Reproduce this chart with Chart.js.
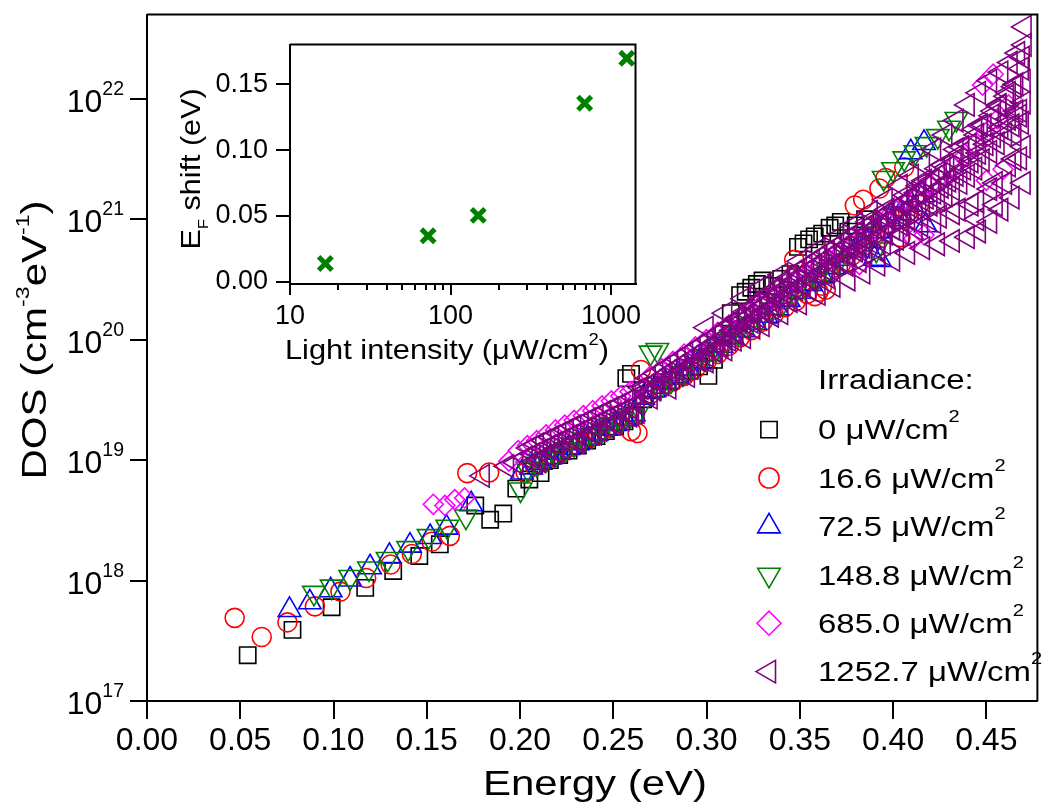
<!DOCTYPE html>
<html>
<head>
<meta charset="utf-8">
<script src="https://cdn.jsdelivr.net/npm/chart.js@4.4.0/dist/chart.umd.min.js"></script>
<style>
  html, body { margin: 0; padding: 0; background: #fff; }
  #wrap { position: relative; width: 1052px; height: 809px; }
  #main { position: absolute; left: 0; top: 0; }
  #inset { position: absolute; left: 160px; top: 30px; }
</style>
</head>
<body>
<div id="wrap">
  <canvas id="main" width="1052" height="809"></canvas>
  <canvas id="inset" width="490" height="345"></canvas>
</div>
<script>
// Ejes principales
const energyTicks = [0, 0.05, 0.10, 0.15, 0.20, 0.25, 0.30, 0.35, 0.40, 0.45];
const dosTicks = [1e17, 1e18, 1e19, 1e20, 1e21, 1e22];
const irradianceLabels = ["0", "16.6", "72.5", "148.8", "685.0", "1252.7"];

// Datos: [energía (eV), DOS (cm^-3 eV^-1)]
const irr0 = [
  [0.054, 2.4e17], [0.078, 3.9e17], [0.099, 6.0e17], [0.117, 8.7e17], [0.132, 1.2e18],
  [0.146, 1.6e18], [0.157, 2.0e18], [0.176, 4.2e18], [0.184, 3.2e18], [0.191, 3.6e18],
  [0.198, 5.8e18], [0.205, 6.9e18], [0.211, 7.8e18], [0.216, 1.0e19], [0.221, 1.1e19],
  [0.226, 1.2e19], [0.231, 1.32e19], [0.236, 1.45e19], [0.241, 1.58e19], [0.246, 1.74e19],
  [0.251, 1.9e19], [0.256, 2.1e19], [0.257, 4.8e19], [0.2595, 5.2e19], [0.261, 2.35e19],
  [0.266, 3.2e19], [0.271, 3.8e19], [0.276, 4.2e19], [0.281, 4.6e19], [0.286, 5.0e19],
  [0.291, 5.5e19], [0.296, 6.0e19], [0.301, 5.0e19], [0.304, 6.8e19], [0.309, 1.12e20],
  [0.313, 1.66e20], [0.318, 2.34e20], [0.321, 2.5e20], [0.324, 2.7e20], [0.327, 2.9e20],
  [0.330, 3.1e20], [0.335, 2.8e20], [0.340, 3.2e20], [0.345, 3.5e20], [0.349, 5.9e20],
  [0.352, 6.3e20], [0.355, 6.8e20], [0.358, 7.2e20], [0.362, 7.6e20], [0.366, 8.5e20],
  [0.369, 8.9e20], [0.372, 9.5e20], [0.376, 7.9e20], [0.380, 8.9e20], [0.385, 1.0e21]
];
const irr16 = [
  [0.047, 4.9e17], [0.0615, 3.4e17], [0.0753, 4.5e17], [0.090, 6.1e17], [0.1037, 8.1e17],
  [0.1175, 1.05e18], [0.1306, 1.36e18], [0.142, 1.66e18], [0.1526, 2.1e18], [0.1624, 2.35e18],
  [0.1717, 7.8e18], [0.1835, 7.9e18], [0.203, 7.9e18], [0.208, 8.9e18], [0.213, 9.8e18],
  [0.218, 1.07e19], [0.223, 1.17e19], [0.228, 1.29e19], [0.233, 1.41e19], [0.238, 1.55e19],
  [0.243, 1.7e19], [0.248, 1.86e19], [0.253, 2.04e19], [0.2595, 1.74e19], [0.263, 1.68e19],
  [0.2648, 5.6e19], [0.270, 3.55e19], [0.276, 4.0e19], [0.282, 4.5e19], [0.288, 5.0e19],
  [0.294, 5.75e19], [0.300, 6.6e19], [0.306, 7.6e19], [0.312, 8.9e19], [0.318, 1.05e20],
  [0.324, 1.2e20], [0.330, 1.41e20], [0.336, 1.62e20], [0.342, 1.86e20], [0.347, 4.6e20],
  [0.348, 2.1e20], [0.354, 2.4e20], [0.358, 2.3e20], [0.360, 2.5e20], [0.362, 2.8e20],
  [0.364, 2.6e20], [0.366, 3.5e20], [0.372, 4.2e20], [0.378, 5.0e20], [0.3795, 1.3e21],
  [0.384, 1.45e21], [0.384, 6.0e20], [0.390, 7.2e20], [0.3927, 1.8e21], [0.396, 2.2e21],
  [0.396, 8.5e20], [0.402, 1.0e21], [0.404, 7.1e20], [0.406, 2.7e21], [0.408, 1.15e21],
  [0.414, 1.32e21]
];
const irr72 = [
  [0.0764, 5.7e17], [0.0873, 6.6e17], [0.0985, 8.3e17], [0.1089, 1.02e18], [0.1196, 1.29e18],
  [0.130, 1.6e18], [0.141, 1.95e18], [0.1518, 2.3e18], [0.1606, 2.75e18], [0.1738, 4.3e18],
  [0.201, 7.9e18], [0.206, 8.7e18], [0.211, 9.5e18], [0.216, 1.05e19], [0.221, 1.15e19],
  [0.226, 1.26e19], [0.231, 1.38e19], [0.236, 1.51e19], [0.241, 1.66e19], [0.246, 1.82e19],
  [0.251, 2.0e19], [0.256, 2.19e19], [0.261, 2.4e19], [0.266, 3.3e19], [0.272, 3.8e19],
  [0.278, 4.4e19], [0.284, 5.0e19], [0.290, 5.75e19], [0.296, 6.6e19], [0.302, 7.6e19],
  [0.308, 8.9e19], [0.314, 1.05e20], [0.320, 1.2e20], [0.326, 1.38e20], [0.332, 1.58e20],
  [0.338, 1.82e20], [0.344, 2.14e20], [0.350, 2.5e20], [0.356, 2.9e20], [0.362, 3.4e20],
  [0.368, 4.0e20], [0.374, 4.7e20], [0.380, 5.5e20], [0.386, 6.6e20], [0.390, 4.7e20],
  [0.393, 4.6e20], [0.392, 7.9e20], [0.398, 1.0e21], [0.404, 1.12e21], [0.4095, 3.6e21],
  [0.410, 1.32e21], [0.4166, 4.3e21], [0.416, 1.58e21], [0.4175, 8.9e20]
];
const irr148 = [
  [0.0895, 7.9e17], [0.099, 8.9e17], [0.109, 1.07e18], [0.119, 1.26e18], [0.129, 1.51e18],
  [0.140, 1.86e18], [0.151, 2.34e18], [0.161, 2.8e18], [0.171, 3.4e18], [0.2003, 5.7e18],
  [0.204, 8.5e18], [0.209, 9.3e18], [0.214, 1.02e19], [0.219, 1.12e19], [0.224, 1.23e19],
  [0.229, 1.35e19], [0.234, 1.48e19], [0.239, 1.62e19], [0.244, 1.78e19], [0.249, 1.95e19],
  [0.254, 2.14e19], [0.259, 2.34e19], [0.264, 2.63e19], [0.270, 7.8e19], [0.2736, 8.2e19],
  [0.275, 4.0e19], [0.281, 4.6e19], [0.287, 5.25e19], [0.293, 6.0e19], [0.299, 7.1e19],
  [0.305, 8.3e19], [0.311, 9.8e19], [0.317, 1.15e20], [0.323, 1.32e20], [0.329, 1.51e20],
  [0.335, 1.78e20], [0.341, 2.04e20], [0.347, 2.4e20], [0.353, 2.75e20], [0.359, 3.2e20],
  [0.365, 3.8e20], [0.371, 4.5e20], [0.377, 5.25e20], [0.383, 6.3e20], [0.389, 7.6e20],
  [0.391, 5.6e20], [0.395, 2.2e21], [0.400, 2.6e21], [0.406, 3.2e21], [0.412, 3.6e21],
  [0.418, 4.2e21], [0.424, 4.9e21], [0.430, 5.75e21], [0.434, 6.8e21]
];
const irr685 = [
  [0.1535, 4.3e18], [0.1597, 4.2e18], [0.165, 4.7e18], [0.1703, 4.85e18], [0.194, 9.8e18],
  [0.199, 1.2e19], [0.204, 1.32e19], [0.209, 1.45e19], [0.214, 1.62e19], [0.219, 1.78e19],
  [0.224, 1.95e19], [0.229, 2.14e19], [0.234, 2.34e19], [0.239, 2.57e19], [0.244, 2.82e19],
  [0.249, 3.1e19], [0.254, 3.4e19], [0.259, 3.7e19], [0.264, 4.2e19], [0.270, 5.0e19],
  [0.276, 5.75e19], [0.282, 6.6e19], [0.288, 7.6e19], [0.294, 8.7e19], [0.300, 1.0e20],
  [0.306, 1.15e20], [0.312, 1.32e20], [0.318, 1.51e20], [0.324, 1.74e20], [0.330, 2.0e20],
  [0.336, 2.3e20], [0.342, 2.6e20], [0.348, 3.0e20], [0.354, 3.5e20], [0.360, 4.0e20],
  [0.366, 4.6e20], [0.372, 5.25e20], [0.378, 6.0e20], [0.382, 4.2e20], [0.384, 7.1e20],
  [0.390, 8.3e20], [0.396, 1.0e21], [0.402, 1.17e21], [0.408, 1.38e21], [0.411, 6.9e20],
  [0.414, 1.62e21], [0.4166, 7.4e20], [0.420, 1.9e21], [0.426, 2.3e21], [0.432, 2.75e21],
  [0.438, 3.3e21], [0.444, 4.2e21], [0.448, 1.3e22], [0.450, 5.25e21], [0.450, 2.1e21],
  [0.4537, 1.6e22], [0.456, 6.8e21], [0.459, 2.6e21], [0.462, 8.9e21]
];
const irr1252 = [
  // fila central
  [0.180, 7.4e18], [0.193, 8.9e18], [0.198, 9.5e18], [0.203, 1.05e19], [0.207, 1.12e19],
  [0.211, 1.2e19], [0.215, 1.29e19], [0.219, 1.38e19], [0.223, 1.48e19], [0.227, 1.58e19],
  [0.231, 1.7e19], [0.235, 1.82e19], [0.239, 1.95e19], [0.243, 2.09e19], [0.247, 2.24e19],
  [0.251, 2.4e19], [0.255, 2.57e19], [0.259, 2.75e19], [0.263, 2.95e19], [0.267, 3.98e19],
  [0.270, 4.27e19], [0.274, 4.68e19], [0.278, 5.13e19], [0.282, 5.62e19], [0.286, 6.17e19],
  [0.290, 6.76e19], [0.294, 7.41e19], [0.298, 8.13e19], [0.302, 8.91e19], [0.306, 9.77e19],
  [0.310, 1.07e20], [0.314, 1.2e20], [0.318, 1.41e20], [0.322, 1.55e20], [0.326, 1.74e20],
  [0.330, 1.91e20], [0.334, 2.14e20], [0.338, 2.4e20], [0.342, 2.69e20], [0.346, 3.02e20],
  [0.350, 3.39e20], [0.354, 3.72e20], [0.358, 4.07e20], [0.362, 4.47e20], [0.366, 4.9e20],
  [0.370, 5.37e20], [0.374, 5.89e20], [0.378, 6.46e20], [0.382, 7.08e20], [0.386, 7.76e20],
  [0.390, 8.51e20], [0.394, 9.33e20], [0.398, 1.0e21], [0.402, 1.07e21], [0.406, 1.15e21],
  [0.410, 1.26e21], [0.414, 1.38e21], [0.418, 1.51e21], [0.422, 1.66e21], [0.426, 1.86e21],
  [0.430, 2.09e21], [0.434, 2.34e21], [0.438, 2.63e21], [0.442, 3.02e21], [0.446, 3.55e21],
  [0.450, 4.2e21], [0.454, 4.9e21], [0.458, 5.75e21], [0.462, 6.8e21], [0.466, 7.9e21],
  [0.470, 9.3e21],
  // fila algo por encima del centro
  [0.205, 1.26e19], [0.209, 1.35e19], [0.213, 1.45e19], [0.217, 1.55e19], [0.221, 1.66e19],
  [0.225, 1.78e19], [0.229, 1.91e19], [0.233, 2.04e19], [0.237, 2.19e19], [0.241, 2.34e19],
  [0.245, 2.51e19], [0.249, 2.69e19], [0.253, 2.88e19], [0.257, 3.09e19], [0.261, 3.31e19],
  [0.265, 3.98e19], [0.269, 4.79e19], [0.273, 5.25e19], [0.277, 5.75e19], [0.281, 6.31e19],
  [0.285, 6.92e19], [0.289, 7.59e19], [0.293, 8.32e19], [0.297, 9.12e19], [0.301, 1.0e20],
  [0.305, 1.1e20], [0.309, 1.2e20], [0.313, 1.35e20], [0.317, 1.51e20], [0.321, 1.7e20],
  [0.325, 1.91e20], [0.329, 2.14e20], [0.333, 2.4e20], [0.337, 2.63e20], [0.341, 2.95e20],
  [0.345, 3.31e20], [0.349, 3.72e20], [0.353, 4.07e20], [0.357, 4.47e20], [0.361, 4.9e20],
  [0.365, 5.37e20], [0.369, 5.89e20], [0.373, 6.46e20], [0.377, 7.08e20], [0.381, 7.76e20],
  [0.385, 8.51e20], [0.389, 9.33e20], [0.393, 1.02e21], [0.397, 1.12e21], [0.401, 1.23e21],
  [0.405, 1.35e21], [0.409, 1.48e21], [0.413, 1.66e21], [0.417, 1.86e21], [0.421, 2.09e21],
  [0.425, 2.34e21], [0.429, 2.69e21], [0.433, 3.09e21], [0.437, 3.55e21], [0.441, 4.17e21],
  [0.445, 5.01e21], [0.449, 6.03e21], [0.453, 7.24e21], [0.457, 8.71e21], [0.461, 1.05e22],
  [0.465, 1.26e22],
  // fila algo por debajo del centro
  [0.207, 9.55e18], [0.211, 1.02e19], [0.215, 1.1e19], [0.219, 1.17e19], [0.223, 1.26e19],
  [0.227, 1.35e19], [0.231, 1.45e19], [0.235, 1.55e19], [0.239, 1.66e19], [0.243, 1.78e19],
  [0.247, 1.91e19], [0.251, 2.04e19], [0.255, 2.19e19], [0.259, 2.34e19], [0.263, 2.51e19],
  [0.268, 3.55e19], [0.272, 3.89e19], [0.276, 4.27e19], [0.280, 4.68e19], [0.284, 5.13e19],
  [0.288, 5.62e19], [0.292, 6.17e19], [0.296, 6.76e19], [0.300, 7.41e19], [0.304, 8.13e19],
  [0.308, 8.91e19], [0.312, 1.0e20], [0.316, 1.12e20], [0.320, 1.26e20], [0.324, 1.41e20],
  [0.328, 1.55e20], [0.332, 1.74e20], [0.336, 1.91e20], [0.340, 2.14e20], [0.344, 2.34e20],
  [0.348, 2.63e20], [0.352, 2.88e20], [0.356, 3.16e20], [0.360, 3.47e20], [0.364, 3.8e20],
  [0.368, 4.17e20], [0.372, 4.57e20], [0.376, 5.01e20], [0.380, 5.5e20], [0.384, 5.89e20],
  [0.388, 6.46e20], [0.392, 7.08e20], [0.396, 7.59e20], [0.400, 8.32e20], [0.404, 9.12e20],
  [0.408, 1.0e21], [0.412, 1.1e21], [0.416, 1.2e21], [0.420, 1.32e21], [0.424, 1.45e21],
  [0.428, 1.58e21], [0.432, 1.78e21], [0.436, 2.0e21], [0.440, 2.29e21], [0.444, 2.63e21],
  [0.448, 3.09e21], [0.452, 3.63e21], [0.456, 4.27e21], [0.460, 5.01e21], [0.464, 6.03e21],
  [0.468, 7.24e21],
  // borde inferior a baja energía
  [0.210, 9.8e18], [0.220, 1.17e19], [0.230, 1.41e19], [0.240, 1.66e19], [0.250, 2.0e19],
  [0.260, 2.4e19], [0.270, 3.3e19], [0.280, 4.0e19], [0.290, 5.0e19],
  // borde superior
  [0.300, 1.26e20], [0.310, 1.66e20], [0.320, 2.19e20], [0.330, 2.75e20], [0.340, 3.47e20],
  [0.350, 4.47e20], [0.360, 5.62e20], [0.370, 7.08e20], [0.380, 9.12e20], [0.388, 1.15e21],
  [0.396, 1.45e21], [0.404, 1.9e21], [0.410, 2.29e21], [0.416, 2.88e21], [0.422, 3.8e21],
  [0.428, 5.0e21], [0.434, 6.6e21], [0.440, 8.9e21], [0.446, 1.12e22], [0.452, 1.41e22],
  [0.458, 1.66e22], [0.463, 2.0e22], [0.467, 2.4e22], [0.4705, 2.8e22], [0.4705, 3.95e22],
  // borde inferior
  [0.300, 6.6e19], [0.310, 8.3e19], [0.320, 1.05e20], [0.330, 1.32e20], [0.340, 1.66e20],
  [0.350, 2.0e20], [0.360, 2.4e20], [0.368, 2.8e20], [0.376, 3.16e20], [0.384, 3.6e20],
  [0.392, 4.2e20], [0.400, 4.6e20], [0.408, 5.25e20], [0.416, 5.75e20], [0.424, 6.2e20],
  [0.432, 6.6e20], [0.440, 7.1e20], [0.446, 7.9e20], [0.452, 9.5e20], [0.458, 1.2e21],
  [0.464, 1.51e21], [0.470, 2.0e21],
  // relleno
  [0.305, 7.94e19], [0.315, 1.0e20], [0.325, 1.26e20], [0.335, 1.58e20], [0.345, 2.09e20],
  [0.355, 2.63e20], [0.365, 3.31e20], [0.375, 4.17e20],
  [0.382, 4.5e20], [0.392, 5.6e20], [0.402, 6.9e20], [0.412, 8.3e20], [0.422, 9.5e20],
  [0.432, 1.12e21], [0.442, 1.32e21], [0.452, 1.78e21], [0.462, 2.8e21], [0.470, 4.0e21],
  [0.385, 5.25e20], [0.395, 6.31e20], [0.405, 7.59e20], [0.415, 8.91e20], [0.425, 1.05e21],
  [0.435, 1.2e21], [0.445, 1.41e21], [0.455, 2.0e21], [0.465, 3.16e21],
  [0.387, 9.55e20], [0.397, 1.2e21], [0.407, 1.58e21], [0.417, 2.09e21], [0.427, 2.82e21],
  [0.437, 3.98e21], [0.447, 6.03e21], [0.457, 8.91e21], [0.466, 1.32e22],
  [0.404, 1.32e21], [0.414, 1.9e21], [0.424, 2.63e21], [0.434, 3.8e21], [0.444, 5.6e21],
  [0.454, 7.9e21], [0.462, 1.12e22], [0.470, 1.41e22], [0.469, 6.3e21], [0.469, 1.78e22],
  [0.468, 3.2e21], [0.445, 1.0e21], [0.455, 1.32e21], [0.460, 2.0e21], [0.465, 5.01e21],
  [0.468, 7.94e21], [0.4695, 2.2e22]
];

// Recuadro: desplazamiento del nivel de Fermi
const lightIntensity = [16.6, 72.5, 148.8, 685.0, 1252.7];
const fermiShift = [0.014, 0.035, 0.0505, 0.1355, 0.1695];
const insetXTicks = [10, 100, 1000];
const insetYTicks = [0, 0.05, 0.10, 0.15];

const FONT = "'Liberation Sans', Arial, Helvetica, sans-serif";

// Texto con superíndices / subíndices
function richText(ctx, parts, x, y, size, opts) {
  opts = opts || {};
  const sx = opts.sx || 1;
  const small = size * (opts.smallRatio || 0.6);
  const supShift = opts.supShift || size * 0.55;
  const subShift = opts.subShift || size * 0.25;
  let total = 0;
  const widths = parts.map(function (p) {
    ctx.font = (p[1] ? small : size) + "px " + FONT;
    const w = ctx.measureText(p[0]).width;
    total += w;
    return w;
  });
  ctx.save();
  ctx.translate(x, y);
  if (opts.rot) ctx.rotate(opts.rot);
  ctx.scale(sx, 1);
  ctx.fillStyle = "#000";
  ctx.textAlign = "left";
  ctx.textBaseline = "alphabetic";
  let cx = opts.align === "center" ? -total / 2 : opts.align === "right" ? -total : 0;
  parts.forEach(function (p, i) {
    ctx.font = (p[1] ? small : size) + "px " + FONT;
    const dy = p[1] === "sup" ? -supShift : p[1] === "sub" ? subShift : 0;
    ctx.fillText(p[0], cx, dy);
    cx += widths[i];
  });
  ctx.restore();
}

function toPoints(arr) {
  return arr.map(function (p) { return { x: p[0], y: p[1] }; });
}

const seriesStyle = [
  { data: irr0, color: "#000000", style: "rect", rot: 0, r: 11.5, lr: 11.5 },
  { data: irr16, color: "#ff0000", style: "circle", rot: 0, r: 9.5, lr: 10 },
  { data: irr72, color: "#0000ff", style: "triangle", rot: 0, r: 13, lr: 13 },
  { data: irr148, color: "#008000", style: "triangle", rot: 180, r: 13, lr: 13 },
  { data: irr685, color: "#ff00ff", style: "rectRot", rot: 0, r: 10, lr: 12 },
  { data: irr1252, color: "#800080", style: "triangle", rot: -90, r: 13, lr: 13 }
];

const datasets = seriesStyle.map(function (s, i) {
  return {
    label: irradianceLabels[i] + " μW/cm²",
    data: toPoints(s.data),
    showLine: false,
    pointStyle: s.style,
    pointRotation: s.rot,
    pointRadius: s.r,
    pointHoverRadius: s.r,
    pointBorderWidth: 1.6,
    borderColor: s.color,
    pointBorderColor: s.color,
    backgroundColor: "rgba(0,0,0,0)",
    pointBackgroundColor: "rgba(0,0,0,0)",
    order: 5 - i,
    clip: false
  };
});

// Marco, etiquetas del eje Y, títulos y leyenda
const mainDecor = {
  id: "mainDecor",
  afterDraw: function (chart) {
    const ctx = chart.ctx;
    const a = chart.chartArea;
    ctx.save();
    ctx.strokeStyle = "#000";
    ctx.lineWidth = 2;
    ctx.beginPath();
    ctx.moveTo(a.left, a.top);
    ctx.lineTo(a.right, a.top);
    ctx.lineTo(a.right, a.bottom);
    ctx.stroke();
    ctx.restore();

    const ys = chart.scales.y;
    dosTicks.forEach(function (v) {
      const py = ys.getPixelForValue(v);
      richText(ctx, [["10", ""], [String(Math.round(Math.log10(v))), "sup"]], 124, py + 13, 32,
        { align: "right", smallRatio: 0.61, supShift: 17 });
    });

    richText(ctx, [["DOS (cm", ""], ["-3", "sup"], ["eV", ""], ["-1", "sup"], [")", ""]],
      46, 340, 35, { rot: -Math.PI / 2, align: "center", sx: 1.2, smallRatio: 0.55, supShift: 17 });
    richText(ctx, [["Energy (eV)", ""]], 595, 795, 35, { align: "center", sx: 1.2 });

    // leyenda
    richText(ctx, [["Irradiance:", ""]], 818, 389, 27, { sx: 1.22 });
    seriesStyle.forEach(function (s, i) {
      const base = 439.3 + i * 48.4;
      const cy = base - 9.7;
      ctx.save();
      ctx.strokeStyle = s.color;
      ctx.fillStyle = "rgba(0,0,0,0)";
      ctx.lineWidth = 1.6;
      Chart.helpers.drawPoint(ctx, { pointStyle: s.style, rotation: s.rot, radius: s.lr, borderWidth: 1.6 }, 769, cy);
      ctx.restore();
      richText(ctx, [[irradianceLabels[i] + " μW/cm", ""], ["2", "sup"]], 818, base, 27,
        { sx: 1.22, smallRatio: 0.61, supShift: 17 });
    });
  }
};

new Chart(document.getElementById("main"), {
  type: "scatter",
  data: { datasets: datasets },
  plugins: [mainDecor],
  options: {
    responsive: false,
    animation: false,
    devicePixelRatio: 1,
    layout: { padding: { top: 12, right: 4, left: 0, bottom: 0 } },
    plugins: { legend: { display: false }, tooltip: { enabled: false } },
    scales: {
      x: {
        type: "linear",
        min: 0,
        max: 0.4774,
        afterFit: function (s) { s.height = 108; s.paddingLeft = 0; s.paddingRight = 0; },
        afterBuildTicks: function (s) { s.ticks = energyTicks.map(function (v) { return { value: v }; }); },
        grid: { drawOnChartArea: false, drawTicks: true, tickLength: 18, lineWidth: 2, color: "#000" },
        border: { color: "#000", width: 2 },
        ticks: {
          color: "#000",
          font: { family: FONT, size: 32 },
          padding: 3,
          maxRotation: 0,
          autoSkip: false,
          callback: function (v) { return Number(v).toFixed(2); }
        }
      },
      y: {
        type: "logarithmic",
        min: 1e17,
        max: 5.0e22,
        afterFit: function (s) { s.width = 147; s.paddingTop = 0; s.paddingBottom = 0; },
        afterBuildTicks: function (s) { s.ticks = dosTicks.map(function (v) { return { value: v }; }); },
        grid: { drawOnChartArea: false, drawTicks: true, tickLength: 17, lineWidth: 2, color: "#000" },
        border: { color: "#000", width: 2 },
        ticks: { display: false }
      }
    }
  }
});

// Recuadro
const insetDecor = {
  id: "insetDecor",
  afterDraw: function (chart) {
    const ctx = chart.ctx;
    const a = chart.chartArea;
    ctx.save();
    ctx.strokeStyle = "#000";
    ctx.lineWidth = 2;
    ctx.beginPath();
    ctx.moveTo(a.left, a.top);
    ctx.lineTo(a.right, a.top);
    ctx.lineTo(a.right, a.bottom);
    ctx.stroke();
    // marcas menores del eje logarítmico
    const xs = chart.scales.x;
    ctx.beginPath();
    [20, 30, 40, 50, 60, 70, 80, 90, 200, 300, 400, 500, 600, 700, 800, 900].forEach(function (v) {
      const px = Math.round(xs.getPixelForValue(v));
      ctx.moveTo(px, a.bottom);
      ctx.lineTo(px, a.bottom + 6);
    });
    ctx.stroke();
    ctx.restore();

    richText(ctx, [["E", ""], ["F", "sub"], [" shift (eV)", ""]], 40, 139, 28,
      { rot: -Math.PI / 2, align: "center", sx: 1.09, smallRatio: 0.55, subShift: 8 });
    richText(ctx, [["Light intensity (μW/cm", ""], ["2", "sup"], [")", ""]], 287, 329, 28,
      { align: "center", sx: 1.1, smallRatio: 0.6, supShift: 14 });
  }
};

new Chart(document.getElementById("inset"), {
  type: "scatter",
  data: {
    datasets: [{
      data: lightIntensity.map(function (v, i) { return { x: v, y: fermiShift[i] }; }),
      showLine: false,
      pointStyle: "crossRot",
      pointRadius: 9.5,
      pointHoverRadius: 9.5,
      pointBorderWidth: 5,
      borderColor: "#008000",
      pointBorderColor: "#008000",
      clip: false
    }]
  },
  plugins: [insetDecor],
  options: {
    responsive: false,
    animation: false,
    devicePixelRatio: 1,
    layout: { padding: { top: 13, right: 12, left: 0, bottom: 0 } },
    plugins: { legend: { display: false }, tooltip: { enabled: false } },
    scales: {
      x: {
        type: "logarithmic",
        min: 10,
        max: 1420,
        afterFit: function (s) { s.height = 91; s.paddingLeft = 0; s.paddingRight = 0; },
        afterBuildTicks: function (s) { s.ticks = insetXTicks.map(function (v) { return { value: v }; }); },
        grid: { drawOnChartArea: false, drawTicks: true, tickLength: 11, lineWidth: 2, color: "#000" },
        border: { color: "#000", width: 2 },
        ticks: {
          color: "#000",
          font: { family: FONT, size: 27 },
          padding: 5,
          maxRotation: 0,
          autoSkip: false,
          callback: function (v) { return String(v); }
        }
      },
      y: {
        type: "linear",
        min: -0.0015,
        max: 0.18,
        afterFit: function (s) { s.width = 130; s.paddingTop = 0; s.paddingBottom = 0; },
        afterBuildTicks: function (s) { s.ticks = insetYTicks.map(function (v) { return { value: v }; }); },
        grid: { drawOnChartArea: false, drawTicks: true, tickLength: 14, lineWidth: 2, color: "#000" },
        border: { color: "#000", width: 2 },
        ticks: {
          color: "#000",
          font: { family: FONT, size: 27 },
          padding: 8,
          callback: function (v) { return Number(v).toFixed(2); }
        }
      }
    }
  }
});
</script>
</body>
</html>
